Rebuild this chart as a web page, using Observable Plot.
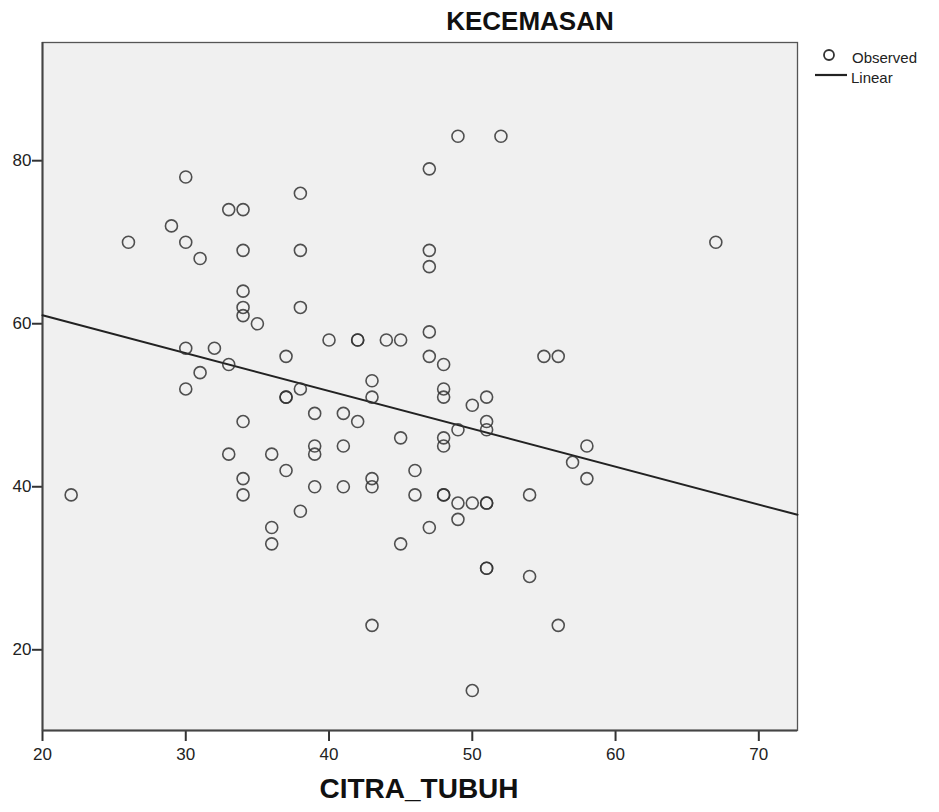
<!DOCTYPE html>
<html>
<head>
<meta charset="utf-8">
<script src="https://cdn.jsdelivr.net/npm/d3@7"></script>
<script src="https://cdn.jsdelivr.net/npm/@observablehq/plot@0.6"></script>
<style>
  html, body { margin: 0; padding: 0; background: #fff; }
  #wrap { position: relative; width: 939px; height: 812px; font-family: "Liberation Sans", Arial, sans-serif; }
  #wrap svg { position: absolute; left: 0; top: 0; }
  .title { position: absolute; left: 380px; width: 300px; top: 6px; text-align: center; font-weight: bold; font-size: 26px; color: #111; }
  .xlabel { position: absolute; left: 268px; width: 302px; top: 773px; text-align: center; font-weight: bold; font-size: 28px; color: #111; }
</style>
</head>
<body>
<div id="wrap">
  <div class="title">KECEMASAN</div>
  <div class="xlabel">CITRA_TUBUH</div>
</div>
<script>
// CITRA_TUBUH (x) and KECEMASAN (y) observations
const citra = [22,26,29,30,30,31,30,30,31,32,33,33,34,34,34,34,34,35,34,33,34,34,36,36,36,37,37,37,37,38,38,38,38,38,39,39,39,39,40,41,41,41,42,42,42,43,43,43,43,43,44,45,45,45,46,46,47,47,47,47,47,47,48,48,48,48,48,48,48,49,49,49,49,50,50,50,51,51,51,51,51,51,51,52,54,54,55,56,56,57,58,58,67];
const kecemasan = [39,70,72,78,70,68,57,52,54,57,55,74,74,69,64,62,61,60,48,44,41,39,44,35,33,56,51,51,42,76,69,62,52,37,49,45,44,40,58,49,45,40,58,58,48,53,51,41,40,23,58,58,46,33,42,39,79,69,67,59,56,35,55,52,51,46,45,39,39,83,47,38,36,50,38,15,51,48,47,38,38,30,30,83,39,29,56,56,23,43,45,41,70];
const xTicks = [20,30,40,50,60,70];
const yTicks = [20,40,60,80];
const xDomain = [20, 72.7];
const yDomain = [10.1, 94.5];

const data = citra.map((x, i) => ({x, y: kecemasan[i]}));
const mx = d3.mean(citra), my = d3.mean(kecemasan);
const sxy = d3.sum(data, d => (d.x - mx) * (d.y - my));
const sxx = d3.sum(data, d => (d.x - mx) ** 2);
const slope = sxy / sxx, intercept = my - slope * mx;
const fit = xDomain.map(x => ({x, y: intercept + slope * x}));

const chart = Plot.plot({
  width: 939,
  height: 812,
  marginLeft: 42,
  marginRight: 142,
  marginTop: 42,
  marginBottom: 82,
  style: {fontFamily: "'Liberation Sans', Arial, sans-serif", fontSize: "17px", color: "#222", background: "transparent"},
  x: {domain: xDomain, label: null},
  y: {domain: yDomain, label: null},
  marks: [
    Plot.frame({fill: "#f0f0f0", stroke: "#555", strokeWidth: 1.3}),
    Plot.axisX({ticks: xTicks, tickSize: 11, tickPadding: 6, fontSize: 17, label: null, stroke: "#333", strokeWidth: 2}),
    Plot.axisY({ticks: yTicks, tickSize: 10, tickPadding: 1, fontSize: 17, label: null, stroke: "#333", strokeWidth: 2}),
    Plot.ruleY([yDomain[0]], {stroke: "#444", strokeWidth: 2.2}),
    Plot.ruleX([xDomain[0]], {stroke: "#444", strokeWidth: 2}),
    Plot.line(fit, {x: "x", y: "y", stroke: "#222", strokeWidth: 2}),
    Plot.dot(data, {x: "x", y: "y", r: 6, stroke: "#333", strokeWidth: 1.6, fill: "none", strokeOpacity: 0.85})
  ]
});
const wrap = document.getElementById("wrap");
wrap.prepend(chart);

// legend
const leg = document.createElement("div");
leg.innerHTML = `
<svg width="140" height="50" style="position:absolute;left:800px;top:40px;overflow:visible">
  <circle cx="29" cy="15" r="5" fill="none" stroke="#333" stroke-width="1.8"/>
  <line x1="15" x2="47" y1="35" y2="35" stroke="#222" stroke-width="2.2"/>
  <text x="52" y="23" font-size="15" fill="#222" font-family="Liberation Sans, Arial, sans-serif">Observed</text>
  <text x="51" y="43" font-size="15" fill="#222" font-family="Liberation Sans, Arial, sans-serif">Linear</text>
</svg>`;
wrap.appendChild(leg.firstElementChild);
</script>
</body>
</html>
